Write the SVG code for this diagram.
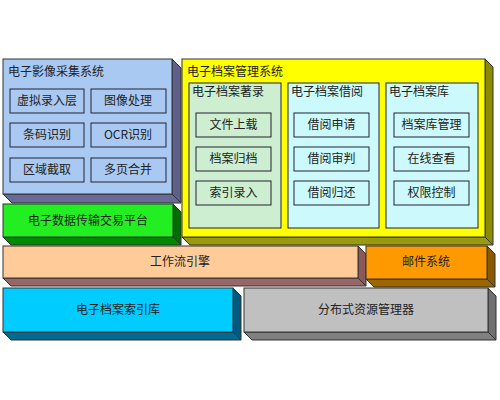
<svg xmlns="http://www.w3.org/2000/svg" width="500" height="400" viewBox="0 0 500 400">
<style>
text{font-family:"Noto Sans CJK SC","Noto Sans",sans-serif;font-size:12px;fill:#222;}
.c{text-anchor:middle;}
.f{stroke:#333;stroke-width:1;}
.inb{fill:#a9c9f2;stroke:#223;stroke-width:1;}
.ing{fill:#cdeed0;stroke:#223;stroke-width:1;}
.inc{fill:#ccfafc;stroke:#223;stroke-width:1;}
</style>
<rect width="500" height="400" fill="#ffffff"/>

<g id="capture">
<polygon class="f" fill="#5f5f8c" points="172,59 181,68 181,203 172,194"/>
<polygon class="f" fill="#6a6a98" points="3,194 172,194 181,203 12,203"/>
<rect class="f" x="3" y="59" width="169" height="135" fill="#a9c9f2"/>
<text x="8" y="76">电子影像采集系统</text>
<g id="cap1"><rect class="inb" x="10" y="89" width="74" height="24"/><text class="c" x="47" y="105">虚拟录入层</text></g>
<g id="cap2"><rect class="inb" x="91" y="89" width="75" height="24"/><text class="c" x="128" y="105">图像处理</text></g>
<g id="cap3"><rect class="inb" x="10" y="123" width="74" height="24"/><text class="c" x="47" y="139">条码识别</text></g>
<g id="cap4"><rect class="inb" x="91" y="123" width="75" height="24"/><text class="c" x="128" y="139">OCR识别</text></g>
<g id="cap5"><rect class="inb" x="10" y="158" width="74" height="24"/><text class="c" x="47" y="174">区域截取</text></g>
<g id="cap6"><rect class="inb" x="91" y="158" width="75" height="24"/><text class="c" x="128" y="174">多页合并</text></g>
</g>

<g id="platform">
<polygon class="f" fill="#006e00" points="173,204 181,212 181,245 173,237"/>
<polygon class="f" fill="#008a00" points="3,237 173,237 181,245 11,245"/>
<rect class="f" x="3" y="204" width="170" height="33" fill="#22ee22"/>
<text class="c" x="88" y="225">电子数据传输交易平台</text>
</g>

<g id="mgmt">
<polygon class="f" fill="#8c8c00" points="485,59 493,67 493,245 485,237"/>
<polygon class="f" fill="#9a9a10" points="182,237 485,237 493,245 190,245"/>
<rect class="f" x="182" y="59" width="303" height="178" fill="#ffff00"/>
<text x="187" y="76">电子档案管理系统</text>
<g id="col1">
<rect class="ing" x="189" y="83" width="92" height="145"/>
<text x="192" y="96">电子档案著录</text>
<g id="c1a"><rect class="ing" x="196" y="113" width="75" height="24"/><text class="c" x="233.5" y="129">文件上载</text></g>
<g id="c1b"><rect class="ing" x="196" y="147" width="75" height="24"/><text class="c" x="233.5" y="163">档案归档</text></g>
<g id="c1c"><rect class="ing" x="196" y="181" width="75" height="24"/><text class="c" x="233.5" y="197">索引录入</text></g>
</g>
<g id="col2">
<rect class="inc" x="288" y="83" width="91" height="145"/>
<text x="291" y="96">电子档案借阅</text>
<g id="c2a"><rect class="inc" x="294" y="113" width="75" height="24"/><text class="c" x="331.5" y="129">借阅申请</text></g>
<g id="c2b"><rect class="inc" x="294" y="147" width="75" height="24"/><text class="c" x="331.5" y="163">借阅审判</text></g>
<g id="c2c"><rect class="inc" x="294" y="181" width="75" height="24"/><text class="c" x="331.5" y="197">借阅归还</text></g>
</g>
<g id="col3">
<rect class="inc" x="386" y="83" width="92" height="145"/>
<text x="389" y="96">电子档案库</text>
<g id="c3a"><rect class="inc" x="394" y="113" width="75" height="24"/><text class="c" x="431.5" y="129">档案库管理</text></g>
<g id="c3b"><rect class="inc" x="394" y="147" width="75" height="24"/><text class="c" x="431.5" y="163">在线查看</text></g>
<g id="c3c"><rect class="inc" x="394" y="181" width="75" height="24"/><text class="c" x="431.5" y="197">权限控制</text></g>
</g>
</g>

<g id="workflow">
<polygon class="f" fill="#8a5a5a" points="358,246 366,254 366,286 358,278"/>
<polygon class="f" fill="#996666" points="3,278 358,278 366,286 11,286"/>
<rect class="f" x="3" y="246" width="355" height="32" fill="#ffcc99"/>
<text class="c" x="180" y="266">工作流引擎</text>
</g>

<g id="mail">
<polygon class="f" fill="#8a5a00" points="487,246 495,254 495,287 487,279"/>
<polygon class="f" fill="#9c6600" points="366,279 487,279 495,287 374,287"/>
<rect class="f" x="366" y="246" width="121" height="33" fill="#ff9900"/>
<text class="c" x="426" y="266">邮件系统</text>
</g>

<g id="index">
<polygon class="f" fill="#005a80" points="233,288 241,296 241,340 233,332"/>
<polygon class="f" fill="#006a90" points="3,332 233,332 241,340 11,340"/>
<rect class="f" x="3" y="288" width="230" height="44" fill="#00ccff"/>
<text class="c" x="118" y="314">电子档案索引库</text>
</g>

<g id="resource">
<polygon class="f" fill="#707070" points="488,288 496,296 496,340 488,332"/>
<polygon class="f" fill="#808080" points="244,332 488,332 496,340 252,340"/>
<rect class="f" x="244" y="288" width="244" height="44" fill="#c0c0c0"/>
<text class="c" x="366" y="314">分布式资源管理器</text>
</g>

<g id="connectors"></g>
</svg>
